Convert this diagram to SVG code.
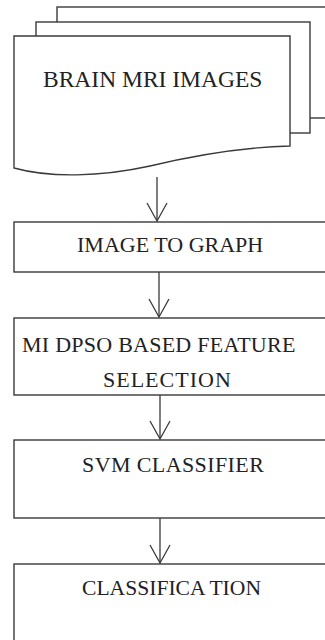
<svg xmlns="http://www.w3.org/2000/svg" width="325" height="640" viewBox="0 0 325 640">
  <rect width="325" height="640" fill="#ffffff"/>

  <!-- stacked document input -->
  <g id="brain-mri-images">
    <rect x="57" y="7" width="290" height="111" fill="#ffffff" stroke="#3a3a3a" stroke-width="1.4"/>
    <rect x="36" y="22" width="274" height="111" fill="#ffffff" stroke="#3a3a3a" stroke-width="1.4"/>
    <path d="M14,36 H290 V146 C250,147 200,154 150,166 C100,177 50,178 14,168 Z" fill="#ffffff" stroke="#3a3a3a" stroke-width="1.4"/>
    <text x="43" y="87" font-family="Liberation Serif" font-size="23.5" fill="#222222">BRAIN MRI IMAGES</text>
  </g>

  <g id="image-to-graph">
    <rect x="14" y="222" width="330" height="50" fill="#ffffff" stroke="#3a3a3a" stroke-width="1.4"/>
    <text x="77" y="252" font-family="Liberation Serif" font-size="22" fill="#222222">IMAGE  TO GRAPH</text>
  </g>

  <g id="midpso-feature-selection">
    <rect x="14" y="318" width="330" height="77" fill="#ffffff" stroke="#3a3a3a" stroke-width="1.4"/>
    <text x="22" y="352" font-family="Liberation Serif" font-size="22" fill="#222222" letter-spacing="0.25">MI DPSO BASED FEATURE</text>
    <text x="103" y="387" font-family="Liberation Serif" font-size="22" fill="#222222" letter-spacing="1">SELECTION</text>
  </g>

  <g id="svm-classifier">
    <rect x="14" y="440" width="330" height="78" fill="#ffffff" stroke="#3a3a3a" stroke-width="1.4"/>
    <text x="82" y="472" font-family="Liberation Serif" font-size="22" fill="#222222" letter-spacing="0.4">SVM CLASSIFIER</text>
  </g>

  <g id="classification">
    <rect x="14" y="564" width="330" height="90" fill="#ffffff" stroke="#3a3a3a" stroke-width="1.4"/>
    <text x="82" y="595" font-family="Liberation Serif" font-size="21.6" fill="#222222">CLASSIFICA TION</text>
  </g>

  <!-- downward connectors with open V heads -->
  <g id="connectors" fill="none" stroke="#3a3a3a" stroke-width="1.3">
    <line x1="157" y1="177" x2="157" y2="221"/>
    <polyline points="147,203 157,221 167,203"/>
    <line x1="159" y1="272" x2="159" y2="317"/>
    <polyline points="149,299 159,317 169,299"/>
    <line x1="160" y1="395" x2="160" y2="439"/>
    <polyline points="150,421 160,439 170,421"/>
    <line x1="160" y1="518" x2="160" y2="563"/>
    <polyline points="150,545 160,563 170,545"/>
  </g>
</svg>
